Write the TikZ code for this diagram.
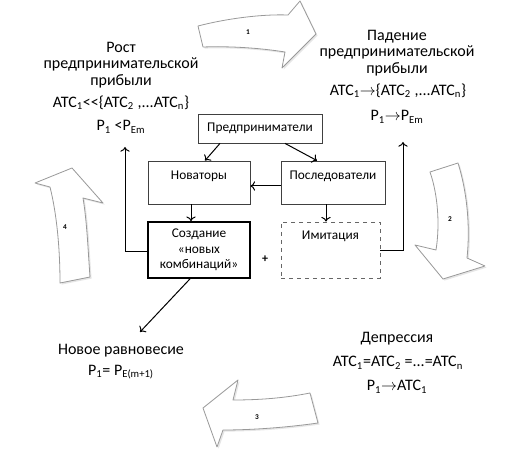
\documentclass[tikz,border=0pt]{standalone}
\usepackage{fontspec}
\setmainfont{Carlito}
\usetikzlibrary{arrows.meta,shadows}

\begin{document}
\begin{tikzpicture}[x=0.75pt,y=0.75pt,yscale=-1,xscale=1,
  box/.style={draw=black!75, line width=0.6pt, inner sep=0pt, font=\fontsize{10}{11.5}\selectfont, align=center},
  conn/.style={line width=0.75pt, -{To[length=3.5pt,width=7pt]}},
  bigtext/.style={inner sep=0.75pt, align=center, font=\fontsize{12}{12.4}\selectfont},
  cyclearrow/.style={draw=black!40, fill=white, line width=0.6pt, line join=round, drop shadow={opacity=0.2, shadow xshift=1.2pt, shadow yshift=-1.2pt}},
  stepno/.style={font=\bfseries\fontsize{5.5}{6}\selectfont, inner sep=0.5pt}]

\useasboundingbox (0,0) rectangle (519,449);

%Shape: Curved Arrow [1]
\draw [cyclearrow] (198,26) .. controls (225,19) and (260,14) .. (288,15) -- (300,1) -- (316,34) -- (282,68) -- (285,52) .. controls (260,48) and (230,46) .. (203,47) -- cycle ;
%Shape: Curved Arrow [2]
\draw [cyclearrow] (430,172) -- (458,163) .. controls (468,195) and (470,230) .. (467,258) -- (485,266) -- (443,279) -- (415,245) -- (436,250) .. controls (440,225) and (438,195) .. (430,172) -- cycle ;
%Shape: Curved Arrow [3]
\draw [cyclearrow] (310,393) .. controls (285,398) and (260,400) .. (233,400) -- (238,380) -- (203,408) -- (217,447) -- (223,430) .. controls (255,430) and (290,427) .. (318,423) -- cycle ;
%Shape: Curved Arrow [4]
\draw [cyclearrow] (60,283) -- (90,277) .. controls (88,250) and (87,222) .. (83,198) -- (103,203) -- (72,168) -- (35,183) -- (50,187) .. controls (57,215) and (60,250) .. (60,283) -- cycle ;

% Text Node
\draw (248,32) node (n1) [stepno] {1};
% Text Node
\draw (450,219) node (n2) [stepno] {2};
% Text Node
\draw (257,417) node (n3) [stepno] {3};
% Text Node
\draw (65,227) node (n4) [stepno] {4};

%Shape: Rectangle
\draw (260,128.5) node (pred) [box, minimum width=93pt, minimum height=21.75pt] {Предприниматели};
%Shape: Rectangle
\draw (199,182.5) node (nov) [box, minimum width=76.5pt, text height=13.7pt, text depth=18.55pt] {Новаторы};
%Shape: Rectangle
\draw (333,182.5) node (posl) [box, minimum width=78pt, text height=13.7pt, text depth=18.55pt] {Последователи};
%Shape: Rectangle
\draw (199,250) node (soz) [box, line width=1.3pt, draw=black, minimum width=76.5pt, minimum height=42pt] {Создание\\«новых\\комбинаций»};
%Shape: Rectangle
\draw (330.5,250) node (imit) [box, dashed, draw=black!60, minimum width=74.25pt, text height=12.95pt, text depth=29.05pt] {Имитация};
% Text Node
\draw (265,259) node (plus) [font=\bfseries\fontsize{9}{10}\selectfont] {+};

% Text Node
\draw (121,65) node (rost) [bigtext] {Рост\\предпринимательской\\прибыли};
% Text Node
\draw (121,103) node (rostatc) [bigtext] {ATC\textsubscript{1}<{}<\{ATC\textsubscript{2} ,...ATC\textsubscript{n}\}};
% Text Node
\draw (121,127) node (rostp) [bigtext] {P\textsubscript{1} <P\textsubscript{Em}};
% Text Node
\draw (397,53) node (pad) [bigtext] {Падение\\предпринимательской\\прибыли};
% Text Node
\draw (398,91) node (padatc) [bigtext] {ATC\textsubscript{1}$\rightarrow$\{ATC\textsubscript{2} ,...ATC\textsubscript{n}\}};
% Text Node
\draw (397,117) node (padp) [bigtext] {P\textsubscript{1}$\rightarrow$P\textsubscript{Em}};
% Text Node
\draw (121,351) node (novoe) [bigtext] {Новое равновесие};
% Text Node
\draw (121,372) node (novoep) [bigtext] {P\textsubscript{1}= P\textsubscript{E(m+1)}};
% Text Node
\draw (397,339) node (depr) [bigtext] {Депрессия};
% Text Node
\draw (398,363) node (depratc) [bigtext] {ATC\textsubscript{1}=ATC\textsubscript{2} =...=ATC\textsubscript{n}};
% Text Node
\draw (397,387) node (deprp) [bigtext] {P\textsubscript{1}$\rightarrow$ATC\textsubscript{1}};

\coordinate (rostin) at (125,147);
\coordinate (padin) at (403,142);
\coordinate (novoein) at (140,332);

%Straight Lines
\draw [conn] (220,0 |- pred.south) -- (205,0 |- nov.north);
%Straight Lines
\draw [conn] (285,0 |- pred.south) -- (317,0 |- posl.north);
%Straight Lines
\draw [conn] (posl.west |- 0,186) -- (nov.east |- 0,186);
%Straight Lines
\draw [conn] (191,0 |- nov.south) -- (191,0 |- soz.north);
%Straight Lines
\draw [conn] (326,0 |- posl.south) -- (326,0 |- imit.north);
%Straight Lines
\draw [conn] (soz.west |- 0,252) -| (rostin);
%Straight Lines
\draw [conn] (imit.east |- 0,251) -| (padin);
%Straight Lines
\draw [conn] (190,0 |- soz.south) -- (novoein);
\end{tikzpicture}
\end{document}
